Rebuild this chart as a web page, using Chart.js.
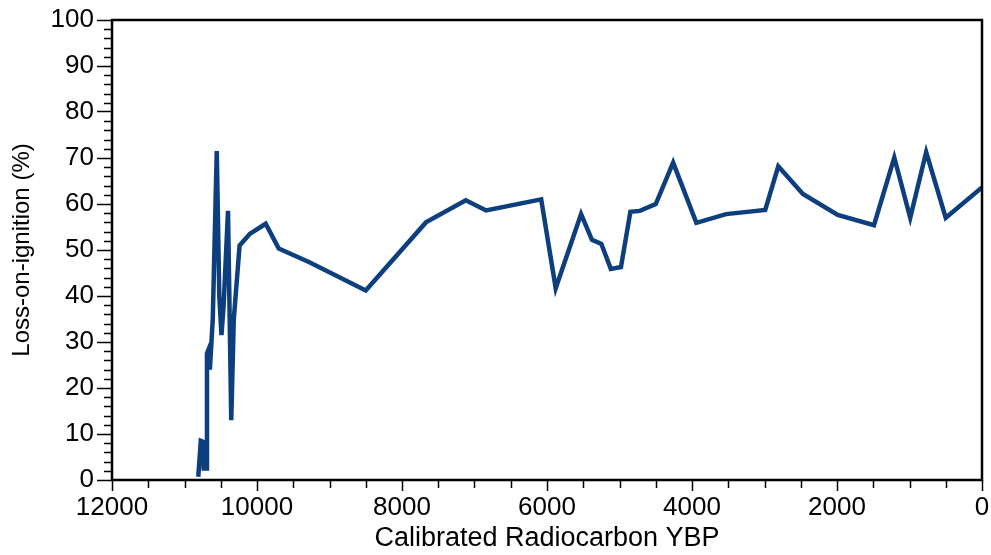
<!DOCTYPE html>
<html>
<head>
<meta charset="utf-8">
<script src="https://cdn.jsdelivr.net/npm/chart.js@4"></script>
<style>
  html, body { margin: 0; padding: 0; background: #fff; }
  #wrap { width: 991px; height: 555px; }
</style>
</head>
<body>
<div id="wrap"><canvas id="loi-chart" width="991" height="555"></canvas></div>
<script>
// years before present (calibrated) and loss-on-ignition %
const years = [
  10810, 10775, 10745, 10735, 10700, 10690, 10665, 10650, 10610, 10555,
  10520, 10490, 10460, 10400, 10355, 10320, 10240, 10100, 9950, 9880,
  9700, 9270, 8500, 7670, 7120, 6840, 6080, 5880, 5530, 5380,
  5250, 5120, 4980, 4850, 4720, 4500, 4260, 3940, 3530, 2990,
  2810, 2470, 1990, 1490, 1210, 990, 770, 500, 0
];
const loi = [
  0.7, 8.5, 8.3, 2.5, 2.5, 27.5, 28.5, 24, 35, 71.5,
  40, 31.5, 38, 58.5, 13, 35, 51, 53.5, 55, 55.7,
  50.3, 47.3, 41.2, 56, 60.8, 58.6, 61, 41.7, 57.8, 52.2,
  51.3, 45.9, 46.3, 58.3, 58.5, 60, 69, 55.9, 57.8, 58.7,
  68.2, 62.2, 57.6, 55.4, 70.1, 57, 71.3, 57, 63.6
];
const xLabels = [12000, 10000, 8000, 6000, 4000, 2000, 0];
const yLabels = [0, 10, 20, 30, 40, 50, 60, 70, 80, 90, 100];

const points = years.map((y, i) => ({ x: y, y: loi[i] }));

const fontFam = "'Liberation Sans', Arial, Helvetica, sans-serif";

// box around plot + minor ticks
const frame = {
  id: "frame",
  afterDraw(chart) {
    const ctx = chart.ctx;
    const a = chart.chartArea;
    const xs = chart.scales.x;
    const ys = chart.scales.y;
    ctx.save();
    ctx.strokeStyle = "#000";
    ctx.lineWidth = 1.5;
    ctx.beginPath();
    for (let v = 0; v <= 12000; v += 500) {
      if (v % 2000 === 0) continue;
      const px = Math.round(xs.getPixelForValue(v)) + 0.5;
      ctx.moveTo(px, a.bottom);
      ctx.lineTo(px, a.bottom + 8);
    }
    for (let v = 0; v <= 100; v += 2) {
      if (v % 10 === 0) continue;
      const py = Math.round(ys.getPixelForValue(v)) + 0.5;
      ctx.moveTo(a.left, py);
      ctx.lineTo(a.left - 8, py);
    }
    ctx.stroke();
    ctx.lineWidth = 2.5;
    ctx.strokeRect(a.left, a.top, a.right - a.left, a.bottom - a.top);
    ctx.restore();
  },
};

const ctxLoi = document.querySelector("#loi-chart").getContext("2d");

const loiChart = new Chart(ctxLoi, {
  type: "scatter",
  data: {
    datasets: [
      {
        label: "LOI",
        data: points,
        showLine: true,
        borderColor: "#0d3f7e",
        borderWidth: 4.5,
        pointRadius: 0,
        tension: 0,
        borderJoinStyle: "miter",
      },
    ],
  },
  options: {
    responsive: false,
    animation: false,
    layout: { padding: { top: 20, right: 9, left: 0, bottom: 0 } },
    plugins: { legend: { display: false }, tooltip: { enabled: false } },
    scales: {
      x: {
        type: "linear",
        reverse: true,
        min: 0,
        max: 12000,
        afterBuildTicks(scale) {
          scale.ticks = xLabels.map((v) => ({ value: v }));
        },
        afterFit(scale) { scale.height = 75; },
        grid: { drawOnChartArea: false, drawTicks: true, tickLength: 11, tickColor: "#000", tickWidth: 1.5 },
        border: { display: false },
        ticks: {
          color: "#000",
          padding: 1,
          maxRotation: 0,
          font: { family: fontFam, size: 26 },
          callback: (v) => String(v),
        },
        title: {
          display: true,
          text: "Calibrated Radiocarbon YBP",
          color: "#000",
          font: { family: fontFam, size: 27 },
          padding: { top: 0, bottom: 0 },
        },
      },
      y: {
        min: 0,
        max: 100,
        afterBuildTicks(scale) {
          scale.ticks = yLabels.map((v) => ({ value: v }));
        },
        afterFit(scale) { scale.width = 112; },
        grid: { drawOnChartArea: false, drawTicks: true, tickLength: 15, tickColor: "#000", tickWidth: 1.5 },
        border: { display: false },
        ticks: {
          color: "#000",
          padding: 3,
          font: { family: fontFam, size: 26 },
        },
        title: {
          display: true,
          text: "Loss-on-ignition (%)",
          color: "#000",
          font: { family: fontFam, size: 24 },
          padding: { top: 8, bottom: 2 },
        },
      },
    },
  },
  plugins: [frame],
});
</script>
</body>
</html>
